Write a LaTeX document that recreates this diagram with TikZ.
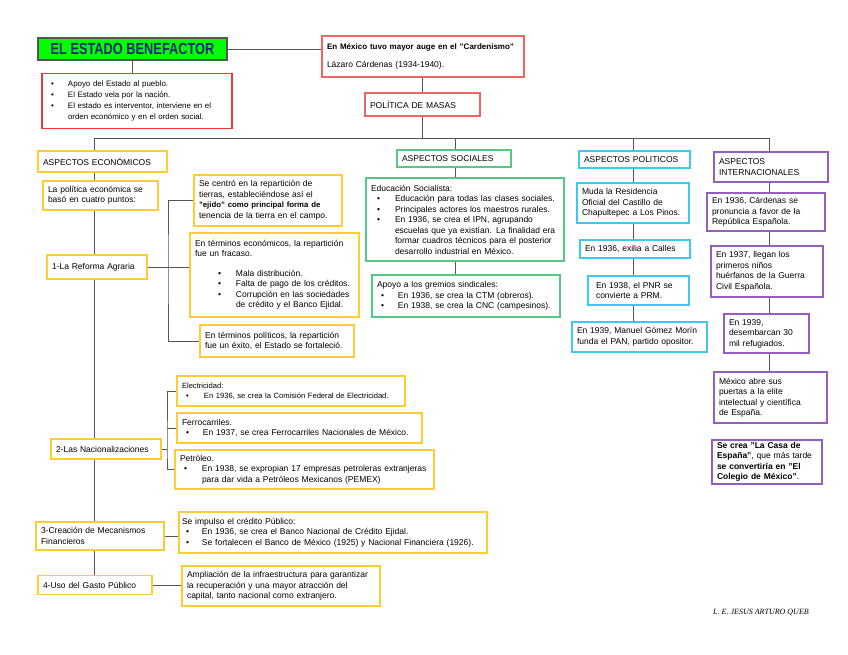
\documentclass[tikz,border=0pt]{standalone}
\usepackage{fontspec}
\setmainfont{Liberation Sans}
\newfontfamily\firmafont{Liberation Serif}
\usepackage{xcolor}
\usepackage{tikz}
\usetikzlibrary{backgrounds}

\definecolor{verdetit}{RGB}{0,255,0}
\definecolor{azultit}{RGB}{31,40,120}
\definecolor{gristit}{RGB}{85,85,85}
\definecolor{rojo}{RGB}{236,56,56}
\definecolor{rosa}{RGB}{240,100,100}
\definecolor{amarillo}{RGB}{255,204,51}
\definecolor{verde}{RGB}{85,200,130}
\definecolor{celeste}{RGB}{60,200,240}
\definecolor{morado}{RGB}{150,95,190}
\definecolor{linea}{RGB}{85,85,85}

\newcommand{\bul}[2]{\hspace*{#1}\makebox[#2][l]{\textbullet}}

\begin{document}
\begin{tikzpicture}[x=1pt, y=-1pt,
    box/.style={draw, fill=white, line width=1.3pt, inner xsep=5pt, inner ysep=2pt,
        align=left, font=\fontsize{8.5}{10.5}\selectfont},
    roja/.style={box, draw=rojo},
    rosada/.style={box, draw=rosa},
    econ/.style={box, draw=amarillo},
    soc/.style={box, draw=verde},
    pol/.style={box, draw=celeste},
    intl/.style={box, draw=morado},
    conector/.style={draw=linea, line width=0.9pt}]
\useasboundingbox (0,0) rectangle (848,655);

% encabezado
\node[draw=gristit, line width=1.3pt, fill=verdetit, minimum width=189pt, minimum height=22pt,
    inner sep=0pt, text=azultit, font=\fontsize{16}{16}\selectfont\bfseries] (titulo) at (132.5,49)
    {\scalebox{0.8}[1]{EL ESTADO BENEFACTOR}};
\node[roja, text width=180pt, minimum height=55pt, font=\fontsize{7.9}{11.3}\selectfont] (estado) at (137,101)
    {\bul{4pt}{17pt}Apoyo del Estado al pueblo.\\
     \bul{4pt}{17pt}El Estado vela por la nación.\\
     \bul{4pt}{17pt}El estado es interventor, interviene en el\\
     \hspace*{21pt}orden económico y en el orden social.};
\node[rosada, text width=192pt, minimum height=41pt] (mexico) at (423,56.5)
    {{\fontsize{8}{10}\selectfont\bfseries En México tuvo mayor auge en el "Cardenismo"}\\[7pt]
     Lázaro Cárdenas (1934-1940).};
\node[rosada, text width=105pt, minimum height=23pt] (masas) at (422.5,104.5) {POLÍTICA DE MASAS};

% aspectos economicos
\node[econ, text width=119pt, minimum height=21pt] (aecon) at (102.5,161.5) {ASPECTOS ECONÓMICOS};
\node[econ, text width=105pt, minimum height=29pt] (politica) at (100.5,195.5)
    {La política económica se\\ basó en cuatro puntos:};
\node[econ, text width=90pt, minimum height=24pt] (reforma) at (97,267) {1-La Reforma Agraria};
\node[econ, text width=138pt, minimum height=51pt] (ejido) at (268,200.5)
    {Se centró en la repartición de\\ tierras, estableciéndose así el\\
     {\fontsize{7.8}{10.5}\selectfont\bfseries "ejido" como principal forma de}\\
     tenencia de la tierra en el campo.};
\node[econ, text width=159pt, minimum height=84pt] (fracaso) at (274.5,275)
    {En términos económicos, la repartición\\ fue un fracaso.\\[9pt]
     \bul{23pt}{18pt}Mala distribución.\\
     \bul{23pt}{18pt}Falta de pago de los créditos.\\
     \bul{23pt}{18pt}Corrupción en las sociedades\\
     \hspace*{41pt}de crédito y el Banco Ejidal.};
\node[econ, text width=144pt, minimum height=32pt] (exito) at (277,341)
    {En términos políticos, la repartición\\ fue un éxito, el Estado se fortaleció.};
\node[econ, text width=100pt, minimum height=20pt] (nacional) at (106,449) {2-Las Nacionalizaciones};
\node[econ, text width=218pt, minimum height=30pt, font=\fontsize{7.6}{10.5}\selectfont] (electr) at (291,391)
    {Electricidad:\\ \bul{4pt}{18pt}En 1936, se crea la Comisión Federal de Electricidad.};
\node[econ, text width=235pt, minimum height=30pt] (ferro) at (299.5,428)
    {Ferrocarriles.\\ \bul{4pt}{17pt}En 1937, se crea Ferrocarriles Nacionales de México.};
\node[econ, text width=249pt, minimum height=39pt] (petro) at (304.5,469.5)
    {Petróleo.\\ \bul{4pt}{18pt}En 1938, se expropian 17 empresas petroleras extranjeras\\
     \hspace*{22pt}para dar vida a Petróleos Mexicanos (PEMEX)};
\node[econ, text width=118pt, minimum height=28pt] (creacion) at (100,536)
    {3-Creación de Mecanismos\\ Financieros};
\node[econ, inner xsep=3pt, text width=302pt, minimum height=41pt] (credito) at (333,532.5)
    {Se impulso el crédito Público:\\
     \bul{4pt}{16pt}En 1936, se crea el Banco Nacional de Crédito Ejidal.\\
     \bul{4pt}{16pt}Se fortalecen el Banco de México (1925) y Nacional Financiera (1926).};
\node[econ, text width=104pt, minimum height=19pt] (gasto) at (95,585) {4-Uso del Gasto Público};
\node[econ, text width=188pt, minimum height=40pt] (infra) at (281,586)
    {Ampliación de la infraestructura para garantizar\\
     la recuperación y una mayor atracción del\\
     capital, tanto nacional como extranjero.};

% aspectos sociales
\node[soc, text width=104pt, minimum height=17pt] (asoc) at (454,158.5) {ASPECTOS SOCIALES};
\node[soc, text width=188pt, minimum height=83pt] (educ) at (465,219.5)
    {Educación Socialista:\\
     \bul{6pt}{18pt}Educación para todas las clases sociales.\\
     \bul{6pt}{18pt}Principales actores los maestros rurales.\\
     \bul{6pt}{18pt}En 1936, se crea el IPN, agrupando\\
     \hspace*{24pt}escuelas que ya existían. La finalidad era\\
     \hspace*{24pt}formar cuadros técnicos para el posterior\\
     \hspace*{24pt}desarrollo industrial en México.};
\node[soc, text width=178pt, minimum height=42pt] (gremios) at (466,296)
    {Apoyo a los gremios sindicales:\\
     \bul{4pt}{17pt}En 1936, se crea la CTM (obreros).\\
     \bul{4pt}{17pt}En 1938, se crea la CNC (campesinos).};

% aspectos politicos
\node[pol, text width=101pt, minimum height=17pt] (apol) at (634.5,159.5) {ASPECTOS POLITICOS};
\node[pol, text width=102pt, minimum height=40pt] (muda) at (633,203)
    {Muda la Residencia\\ Oficial del Castillo de\\ Chapultepec a Los Pinos.};
\node[pol, text width=100pt, minimum height=18pt] (exilia) at (635,249) {En 1936, exilia a Calles};
\node[pol, text width=91pt, minimum height=29pt] (pnr) at (638.5,290.5)
    {\hspace*{3pt}En 1938, el PNR se\\ \hspace*{3pt}convierte a PRM.};
\node[pol, text width=125pt, minimum height=30pt] (pan) at (639.5,337)
    {En 1939, Manuel Gómez Morín\\ funda el PAN, partido opositor.};

% aspectos internacionales
\node[intl, text width=104pt, minimum height=30pt] (aint) at (771,167) {ASPECTOS\\ INTERNACIONALES};
\node[intl, text width=108pt, minimum height=38pt] (pronuncia) at (766,212)
    {En 1936, Cárdenas se\\ pronuncia a favor de la\\ República Española.};
\node[intl, text width=102pt, minimum height=51pt] (huerfanos) at (767,271.5)
    {En 1937, llegan los\\ primeros niños\\ huérfanos de la Guerra\\ Civil Española.};
\node[intl, text width=75pt, minimum height=39pt] (refugiados) at (766.5,333.5)
    {En 1939,\\ desembarcan 30\\ mil refugiados.};
\node[intl, text width=103pt, minimum height=51pt] (elite) at (770.5,397.5)
    {México abre sus\\ puertas a la elite\\ intelectual y científica\\ de España.};
\node[intl, text width=100pt, minimum height=44pt] (casa) at (767,462)
    {{\bfseries Se crea "La Casa de}\\ {\bfseries España"}, que más tarde\\
     {\bfseries se convertiría en "El}\\ {\bfseries Colegio de México"}.};

\node[font=\firmafont\itshape\fontsize{8}{10}\selectfont] (firma) at (761,612) {L. E. JESUS ARTURO QUEB};

\coordinate (busizq) at (94,138);
\coordinate (busder) at (769,138);
\coordinate (ramsoc) at (455,138);
\coordinate (rampol) at (633,138);
\coordinate (rbref) at (168,267);
\coordinate (rbnac) at (167,449);

\begin{scope}[on background layer]
    \draw[conector] (titulo.east) -- (titulo.east -| mexico.west);
    \draw[conector] (titulo.south) -- (titulo.south |- estado.north);
    \draw[conector] (masas.north |- mexico.south) -- (masas.north);
    \draw[conector] (masas.south) -- (masas.south |- busizq);
    \draw[conector] (busizq) -- (busder);
    \draw[conector] (busizq) -- (busizq |- gasto.north);
    \draw[conector] (ramsoc) -- (ramsoc |- gremios.north);
    \draw[conector] (rampol) -- (rampol |- pan.north);
    \draw[conector] (busder) -- (busder |- elite.north);
    \draw[conector] (reforma.east) -- (reforma.east -| fracaso.west);
    \draw[conector] (ejido.west) -| (rbref) |- (exito.west);
    \draw[conector] (nacional.east) -- (rbnac);
    \draw[conector] (electr.west) -| (rbnac) |- (petro.west);
    \draw[conector] (ferro.west) -- (ferro.west -| rbnac);
    \draw[conector] (creacion.east) -- (creacion.east -| credito.west);
    \draw[conector] (gasto.east) -- (gasto.east -| infra.west);
\end{scope}
\end{tikzpicture}
\end{document}
